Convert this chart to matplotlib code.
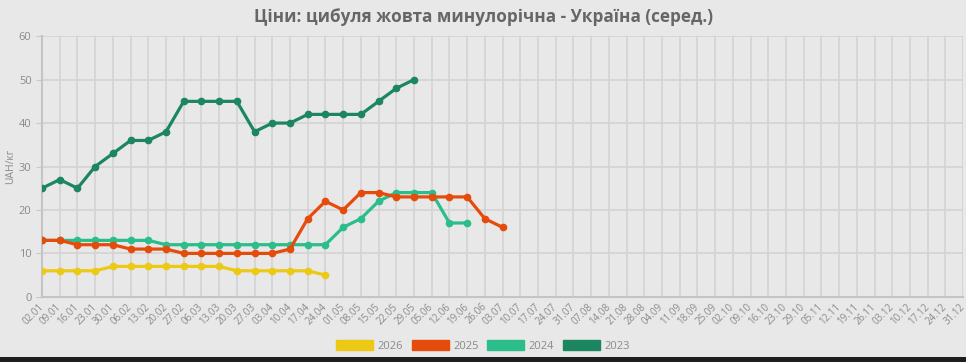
import matplotlib.pyplot as plt
from matplotlib.patches import Patch, Rectangle
from matplotlib.transforms import ScaledTranslation

plt.rcParams['font.family'] = ['Open Sans', 'DejaVu Sans']

week_labels = [
    "02.01", "09.01", "16.01", "23.01", "30.01", "06.02", "13.02", "20.02", "27.02",
    "06.03", "13.03", "20.03", "27.03", "03.04", "10.04", "17.04", "24.04",
    "01.05", "08.05", "15.05", "22.05", "29.05", "05.06", "12.06", "19.06", "26.06",
    "03.07", "10.07", "17.07", "24.07", "31.07", "07.08", "14.08", "21.08", "28.08",
    "04.09", "11.09", "18.09", "25.09", "02.10", "09.10", "16.10", "23.10", "29.10",
    "05.11", "12.11", "19.11", "26.11", "03.12", "10.12", "17.12", "24.12", "31.12",
]

prices_2026 = [6, 6, 6, 6, 7, 7, 7, 7, 7, 7, 7, 6, 6, 6, 6, 6, 5]
prices_2025 = [13, 13, 12, 12, 12, 11, 11, 11, 10, 10, 10, 10, 10, 10, 11, 18, 22,
               20, 24, 24, 23, 23, 23, 23, 23, 18, 16]
prices_2024 = [13, 13, 13, 13, 13, 13, 13, 12, 12, 12, 12, 12, 12, 12, 12, 12, 12,
               16, 18, 22, 24, 24, 24, 17, 17]
prices_2023 = [25, 27, 25, 30, 33, 36, 36, 38, 45, 45, 45, 45, 38, 40, 40, 42, 42,
               42, 42, 45, 48, 50]

series = [
    ("2026", prices_2026, "#ecc914"),
    ("2025", prices_2025, "#e54c0c"),
    ("2024", prices_2024, "#2bbd8a"),
    ("2023", prices_2023, "#1c8660"),
]

bg = "#e8e8e8"
fig = plt.figure(figsize=(9.66, 3.62), dpi=100, facecolor=bg)
ax = fig.add_axes([0.0435, 0.18, 0.9535, 0.72], facecolor=bg)

# draw older years first so newer ones sit on top
for name, vals, color in reversed(series):
    ax.plot(range(len(vals)), vals, color=color, lw=2.3, marker='o', ms=4.5,
            solid_joinstyle='round', zorder=3)

ax.set_xlim(0, len(week_labels) - 1)
ax.set_ylim(0, 60)
ax.set_yticks(range(0, 61, 10))
ax.set_xticks(range(len(week_labels)))
ax.set_xticklabels(week_labels, rotation=45, ha='right', va='center',
                   rotation_mode='anchor', fontsize=7, color='#8a8a8a')
shift = ScaledTranslation(-4 / 100, 0, fig.dpi_scale_trans)
for lbl in ax.get_xticklabels():
    lbl.set_transform(lbl.get_transform() + shift)
ax.tick_params(axis='y', labelsize=8, labelcolor='#8a8a8a', length=4, color='#c8c8c8')
ax.tick_params(axis='x', length=0, pad=6)
ax.grid(True, color='#d3d3d3', lw=1.2, zorder=0)
for side in ['top', 'right']:
    ax.spines[side].set_visible(False)
for side in ['left', 'bottom']:
    ax.spines[side].set_color('#c4c4c4')
    ax.spines[side].set_linewidth(1.5)

ax.set_ylabel("UAH/кг", fontsize=7.5, color='#8a8a8a', labelpad=2)

fig.text(0.5, 0.952, "Ціни: цибуля жовта минулорічна - Україна (серед.)",
         ha='center', va='center', fontsize=12.3, fontweight='bold', color='#666666')

handles = [Patch(facecolor=c, edgecolor=c, label=n) for n, _, c in series]
fig.legend(handles=handles, loc='center', bbox_to_anchor=(0.5, 0.045), ncol=4,
           frameon=False, fontsize=8, labelcolor='#8a8a8a', handlelength=3.3,
           handleheight=1.1, columnspacing=0.8, handletextpad=0.4)

# dark strip along the bottom edge of the screenshot
fig.patches.append(Rectangle((0, 0), 1, 0.014, transform=fig.transFigure,
                             facecolor='#1e1e1e', edgecolor='none'))

fig.savefig("out.png", dpi=100, facecolor=bg)
